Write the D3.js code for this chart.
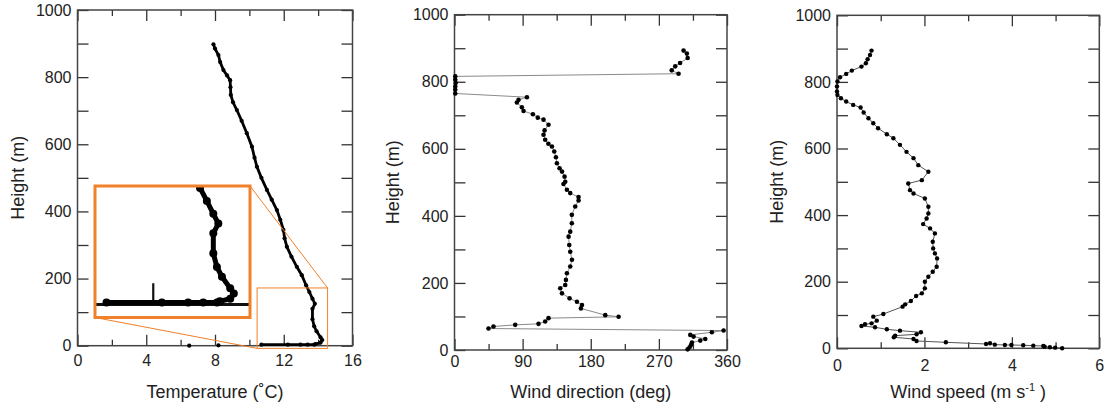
<!DOCTYPE html>
<html>
<head>
<meta charset="utf-8">
<script src="https://cdn.jsdelivr.net/npm/d3@7"></script>
<style>
  body { margin: 0; background: #fff; }
  svg text { font-family: "Liberation Sans", Arial, Helvetica, sans-serif; fill: #222; }
</style>
</head>
<body>
<div id="chart"></div>
<script>
// temperature profile (height m, temperature C)
var tempHeight = [0, 1, 3, 3, 3, 3, 3, 5, 9, 17, 25, 43, 58, 79, 110, 125, 140, 160, 180, 210, 235, 265, 295, 320, 345, 375, 404, 435, 464, 500, 533, 560, 593, 633, 670, 702, 725, 747, 770, 791, 805, 821, 845, 866, 885, 898];
var tempValue  = [6.5, 8.2, 10.7, 12.24, 12.97, 13.39, 13.77, 13.85, 14.14, 14.24, 14.14, 13.91, 13.77, 13.67, 13.67, 13.81, 13.67, 13.49, 13.3, 13.05, 12.76, 12.45, 12.18, 12.05, 11.98, 11.8, 11.6, 11.3, 11.02, 10.7, 10.44, 10.3, 10.15, 9.85, 9.55, 9.27, 9.05, 8.92, 8.9, 8.88, 8.7, 8.49, 8.3, 8.2, 8.0, 7.91];

// wind direction profile (height m, deg)
var dirHeight = [2, 8, 15, 22, 28, 33, 40, 45, 53, 58, 64, 70, 75, 78, 85, 95, 99, 104, 124, 134, 144, 154, 169, 184, 194, 209, 229, 249, 269, 293, 313, 338, 353, 378, 403, 428, 446, 456, 468, 478, 495, 502, 517, 532, 542, 557, 575, 592, 607, 615, 627, 642, 655, 672, 687, 693, 703, 713, 724, 738, 746, 754, 765, 776, 786, 796, 806, 816, 824, 834, 846, 856, 871, 884, 893];
var dirValue  = [308, 310.6, 312.4, 313.7, 324.7, 331.3, 315.8, 311.5, 340, 355.5, 44.9, 51.5, 80.2, 111, 119.8, 124.2, 216.8, 199.2, 167, 168.4, 161.8, 152, 142, 139.7, 146.3, 147.2, 148.5, 152.9, 155.2, 152.9, 151.6, 150.7, 152.9, 155, 155, 159.5, 163.9, 163.9, 152.9, 148.5, 144, 146.3, 145.4, 142, 138.8, 135.3, 134, 131.8, 128.7, 124, 119.8, 117.6, 119, 124.2, 117.6, 110, 103.6, 91.2, 89, 82.4, 84.6, 95.7, 1, 1, 1, 1.5, 1, 1, 296, 287, 291.6, 298, 308, 307, 302.6];

// wind speed profile (height m, m/s)
var spdHeight = [0, 2, 3, 5, 7, 8, 9, 10, 10, 11, 15, 13, 18, 22, 28, 33, 38, 42, 48, 53, 57, 63, 67, 72, 75, 83, 95, 103, 125, 132, 142, 157, 165, 180, 200, 215, 230, 245, 270, 285, 300, 320, 345, 360, 373, 390, 405, 425, 450, 465, 475, 495, 505, 530, 550, 571, 590, 611, 631, 643, 661, 676, 691, 708, 723, 731, 741, 751, 761, 771, 786, 801, 814, 824, 834, 846, 856, 868, 881, 894];
var spdValue  = [5.15, 4.99, 4.87, 4.75, 4.72, 4.49, 4.26, 3.99, 3.84, 3.61, 3.5, 3.41, 2.49, 1.82, 1.75, 1.3, 1.33, 1.82, 1.92, 1.44, 1.14, 0.87, 0.56, 0.64, 0.79, 0.91, 0.83, 1.06, 1.5, 1.56, 1.69, 1.81, 1.94, 2.01, 2.01, 2.09, 2.19, 2.28, 2.29, 2.24, 2.2, 2.19, 2.24, 2.13, 1.97, 2.05, 2.09, 2.09, 2.01, 1.75, 1.67, 1.63, 1.94, 2.09, 1.86, 1.75, 1.59, 1.44, 1.29, 1.14, 0.94, 0.83, 0.72, 0.61, 0.54, 0.37, 0.21, 0.09, 0.01, 0, 0, 0.01, 0.07, 0.21, 0.34, 0.56, 0.66, 0.7, 0.755, 0.79];

// tick values
var heightTicks = [0, 100, 200, 300, 400, 500, 600, 700, 800, 900, 1000];
var tempMajor = [0, 4, 8, 12, 16], tempMinor = [2, 6, 10, 14];
var dirMajor = [0, 90, 180, 270, 360], dirMinor = [45, 135, 225, 315];
var spdMajor = [0, 2, 4, 6], spdMinor = [1, 3, 5];

var orange = "#f0802a";

var svg = d3.select("#chart").append("svg")
    .attr("width", 1106)
    .attr("height", 407);

function toRows(hs, vs) {
    return hs.map(function (h, i) { return {h: h, v: vs[i]}; });
}

// draw one framed panel with inward ticks
function panel(opt) {
    var x = d3.scaleLinear().domain(opt.xDomain).range([opt.left, opt.right]);
    var y = d3.scaleLinear().domain([0, 1000]).range([opt.bottom, opt.top]);
    var g = svg.append("g");

    var axes = g.append("g").attr("class", "axes");
    axes.append("g").attr("transform", "translate(0," + opt.bottom + ")")
        .call(d3.axisBottom(x).tickValues(opt.major).tickSize(-11).tickPadding(opt.xPad)
            .tickFormat(d3.format("d")));
    axes.append("g").attr("transform", "translate(0," + opt.bottom + ")")
        .call(d3.axisBottom(x).tickValues(opt.minor).tickSize(-6).tickFormat(""));
    axes.append("g").attr("transform", "translate(0," + opt.top + ")")
        .call(d3.axisTop(x).tickValues(opt.major).tickSize(-11).tickFormat(""));
    axes.append("g").attr("transform", "translate(0," + opt.top + ")")
        .call(d3.axisTop(x).tickValues(opt.minor).tickSize(-6).tickFormat(""));
    axes.append("g").attr("transform", "translate(" + opt.left + ",0)")
        .call(d3.axisLeft(y).tickValues(heightTicks).tickSize(-11).tickPadding(6)
            .tickFormat(function (d) { return d % 200 === 0 ? d : ""; }));
    axes.append("g").attr("transform", "translate(" + opt.right + ",0)")
        .call(d3.axisRight(y).tickValues(heightTicks).tickSize(-11).tickFormat(""));

    axes.selectAll(".domain").remove();
    axes.selectAll(".tick line").attr("stroke", "#333").attr("stroke-width", 1.3);
    axes.selectAll("text").attr("font-size", 16).attr("fill", "#222");

    g.append("rect")
        .attr("x", opt.left).attr("y", opt.top)
        .attr("width", opt.right - opt.left).attr("height", opt.bottom - opt.top)
        .attr("fill", "none").attr("stroke", "#444").attr("stroke-width", 1.5);

    g.append("text")
        .attr("transform", "translate(" + opt.yLabelX + "," + ((opt.top + opt.bottom) / 2) + ") rotate(-90)")
        .attr("text-anchor", "middle").attr("dy", "0.35em")
        .attr("font-size", 18)
        .text("Height (m)");

    var xt = g.append("text")
        .attr("x", (opt.left + opt.right) / 2).attr("y", 398)
        .attr("text-anchor", "middle").attr("font-size", 18);
    opt.xLabel(xt);

    return {g: g, x: x, y: y};
}

// ---------- panel 1: temperature ----------
var p1 = panel({
    left: 77.5, right: 352.5, top: 10, bottom: 345.7,
    xDomain: [0, 16], major: tempMajor, minor: tempMinor, xPad: 9, yLabelX: 18,
    xLabel: function (t) { t.text("Temperature (\u02DAC)"); }
});

var tempRows = toRows(tempHeight, tempValue);
var tLine = d3.line().x(function (d) { return p1.x(d.v); }).y(function (d) { return p1.y(d.h); });

p1.g.append("path").datum(tempRows.slice(2))
    .attr("d", tLine).attr("fill", "none").attr("stroke", "#000").attr("stroke-width", 2.8);
p1.g.selectAll(".tdot").data(tempRows).enter().append("circle")
    .attr("cx", function (d) { return p1.x(d.v); })
    .attr("cy", function (d) { return p1.y(d.h); })
    .attr("r", 2.1).attr("fill", "#000");

// small zoom box and inset
var boxT = [10.45, 14.55], boxH = [-8, 172];
var inset = {left: 95, right: 250, top: 186, bottom: 317.5};
var ix = d3.scaleLinear().domain([10.38, 14.69]).range([inset.left, inset.right]);
var iy = d3.scaleLinear().domain([-20, 183]).range([inset.bottom, inset.top]);

p1.g.append("rect")
    .attr("x", p1.x(boxT[0])).attr("y", p1.y(boxH[1]))
    .attr("width", p1.x(boxT[1]) - p1.x(boxT[0]))
    .attr("height", p1.y(boxH[0]) - p1.y(boxH[1]))
    .attr("fill", "none").attr("stroke", orange).attr("stroke-width", 1);
p1.g.append("line")
    .attr("x1", inset.right).attr("y1", inset.top)
    .attr("x2", p1.x(boxT[1])).attr("y2", p1.y(boxH[1]))
    .attr("stroke", orange).attr("stroke-width", 1);
p1.g.append("line")
    .attr("x1", inset.left).attr("y1", inset.bottom)
    .attr("x2", p1.x(boxT[0])).attr("y2", p1.y(boxH[0]))
    .attr("stroke", orange).attr("stroke-width", 1);

svg.append("clipPath").attr("id", "insetClip").append("rect")
    .attr("x", inset.left).attr("y", inset.top)
    .attr("width", inset.right - inset.left).attr("height", inset.bottom - inset.top);

var ig = p1.g.append("g").attr("clip-path", "url(#insetClip)");
ig.append("rect")
    .attr("x", inset.left).attr("y", inset.top)
    .attr("width", inset.right - inset.left).attr("height", inset.bottom - inset.top)
    .attr("fill", "#fff");
// magnified x axis and tick at 12
ig.append("line")
    .attr("x1", inset.left).attr("x2", inset.right)
    .attr("y1", iy(0)).attr("y2", iy(0))
    .attr("stroke", "#111").attr("stroke-width", 3);
ig.append("line")
    .attr("x1", ix(12)).attr("x2", ix(12))
    .attr("y1", iy(0)).attr("y2", iy(0) - 11 * 1.93)
    .attr("stroke", "#111").attr("stroke-width", 2.2);
var iLine = d3.line().x(function (d) { return ix(d.v); }).y(function (d) { return iy(d.h); });
ig.append("path").datum(tempRows.slice(2))
    .attr("d", iLine).attr("fill", "none").attr("stroke", "#000").attr("stroke-width", 5);
ig.selectAll(".idot").data(tempRows).enter().append("circle")
    .attr("cx", function (d) { return ix(d.v); })
    .attr("cy", function (d) { return iy(d.h); })
    .attr("r", 4).attr("fill", "#000");
p1.g.append("rect")
    .attr("x", inset.left).attr("y", inset.top)
    .attr("width", inset.right - inset.left).attr("height", inset.bottom - inset.top)
    .attr("fill", "none").attr("stroke", orange).attr("stroke-width", 3);

// ---------- panel 2: wind direction ----------
var p2 = panel({
    left: 454.5, right: 727, top: 14.7, bottom: 350,
    xDomain: [0, 360], major: dirMajor, minor: dirMinor, xPad: 6, yLabelX: 393,
    xLabel: function (t) { t.text("Wind direction (deg)"); }
});
var dirRows = toRows(dirHeight, dirValue);
p2.g.append("path").datum(dirRows)
    .attr("d", d3.line().x(function (d) { return p2.x(d.v); }).y(function (d) { return p2.y(d.h); }))
    .attr("fill", "none").attr("stroke", "#8a8a8a").attr("stroke-width", 1);
p2.g.selectAll(".ddot").data(dirRows).enter().append("circle")
    .attr("cx", function (d) { return p2.x(d.v); })
    .attr("cy", function (d) { return p2.y(d.h); })
    .attr("r", 2.3).attr("fill", "#000");

// ---------- panel 3: wind speed ----------
var p3 = panel({
    left: 837, right: 1099.3, top: 15.3, bottom: 348.3,
    xDomain: [0, 6], major: spdMajor, minor: spdMinor, xPad: 11, yLabelX: 777,
    xLabel: function (t) {
        t.append("tspan").text("Wind speed (m s");
        t.append("tspan").attr("dy", -7).attr("font-size", 11).text("-1");
        t.append("tspan").attr("dy", 7).text(" )");
    }
});
var spdRows = toRows(spdHeight, spdValue);
p3.g.append("path").datum(spdRows)
    .attr("d", d3.line().x(function (d) { return p3.x(d.v); }).y(function (d) { return p3.y(d.h); }))
    .attr("fill", "none").attr("stroke", "#555").attr("stroke-width", 1);
p3.g.selectAll(".sdot").data(spdRows).enter().append("circle")
    .attr("cx", function (d) { return p3.x(d.v); })
    .attr("cy", function (d) { return p3.y(d.h); })
    .attr("r", 2.2).attr("fill", "#000");
</script>
</body>
</html>
